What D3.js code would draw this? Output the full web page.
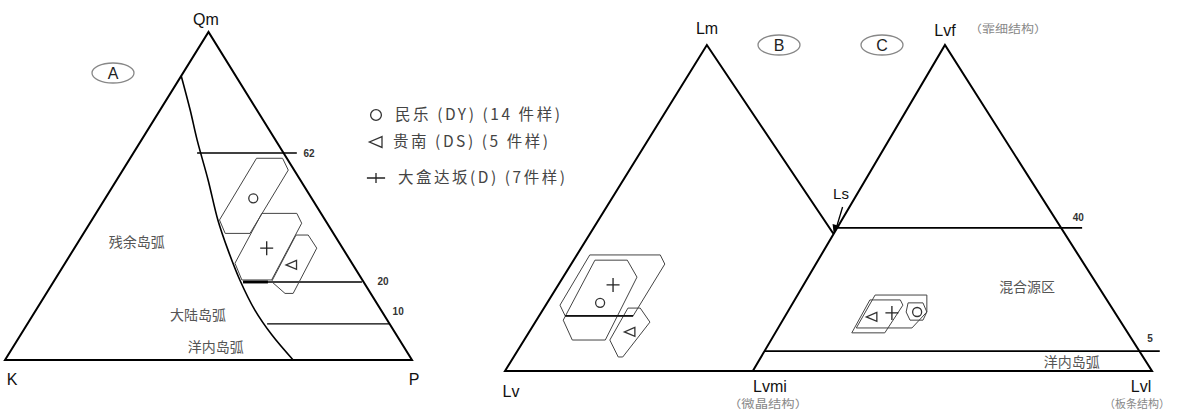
<!DOCTYPE html>
<html><head><meta charset="utf-8">
<script src="https://cdn.jsdelivr.net/npm/d3@7"></script>
<style>
html,body{margin:0;padding:0;background:#fff;}
svg{display:block;}
text{font-family:"Liberation Sans",Arial,sans-serif;}
.cjk{font-family:"Noto Sans CJK SC",sans-serif;}
</style></head><body>
<svg id="c" width="1189" height="413"></svg>
<script>
// ---------- DATA (percent coordinates inside each diagram frame) ----------
// Panel A frame: x 0..100 from K to P, y 0..100 from base to Qm apex
const aCorners = [[0,0],[50,100],[100,0]];
const aCornerLabels = ["K","Qm","P"];
const aCurve = [[43.3,86.6],[45.5,76.2],[47.2,67.1],[49.9,54.9],[52.3,42.7],[54.8,33.5],[57.7,24.4],[61.4,15.2],[65.6,7.6],[70.8,0]];
const aLevels = [[47.2,71.7,63.1],[58.5,87.7,23.8],[64.4,94.6,11.0]];   // [xStart, xEnd, y]
const aLevelLabels = ["62","20","10"];
const aLevelLabelPos = [[74.7,63.1],[92.9,23.8],[96.6,14.9]];
const aThick = [[58.5,23.8],[64.6,23.8]];
const aRegions = ["残余岛弧","大陆岛弧","洋内岛弧"];
const aRegionPos = [[32.4,36.0],[47.4,13.7],[51.8,4.0]];
const aPolyCircle = [[61.8,61.5],[68.2,61.5],[69.6,57.9],[60.2,38.6],[54.1,38.6],[52.7,42.7]];
const aPolyCross = [[63.1,44.7],[71.7,44.7],[72.9,41.7],[65.5,24.4],[58.2,24.4],[56.5,29.5]];
const aPolyTri = [[71.5,38.1],[74.5,38.1],[76.6,34.1],[70.8,20.3],[68.8,20.3],[65.5,23.9]];
const aMarkers = [["circle",61.0,49.3],["cross",64.3,34.1],["tri",70.4,29.0]];

// Panel B/C frame: x 0..100 from Lv to Lvl, y 0..100 from base to apex
const bLv = [0,0], bLm = [31.2,100], cLvmi = [38.3,0], cLvf = [68.0,100], cLvl = [100,0];
const bcCornerLabels = ["Lv","Lm","Lvmi","Lvf","Lvl"];
const bcSubLabels = ["（微晶结构）","（霏细结构）","（板条结构）"];
const bcLevels = [[89.2,43.9],[101.2,6.1]];  // [xEnd, y] ; start on C left edge
const bcLevelLabels = ["40","5"];
const bcLevelLabelPos = [[88.6,47.0],[99.7,10.1]];
const bcRegions = ["混合源区","洋内岛弧"];
const bcRegionPos = [[80.7,25.8],[87.6,2.8]];
const bPolyOuter = [[13.1,35.6],[24.0,35.6],[24.7,32.8],[19.8,16.9],[9.3,16.9],[8.5,20.2]];
const bPolyInner = [[13.9,34.0],[18.9,34.0],[20.4,28.8],[15.5,9.5],[10.4,9.5],[9.0,15.6]];
const bPolyTri = [[19.0,19.3],[20.9,19.3],[22.4,15.0],[18.2,4.3],[17.5,4.3],[16.2,9.5]];
const bBaseSeg = [[9.3,16.9],[19.8,16.9]];
const bMarkers = [["cross",16.7,26.4],["circle",14.7,20.9],["tri",19.3,12.0]];
const cPoly1 = [[57.2,23.3],[65.2,23.3],[65.2,18.1],[62.9,13.2],[54.3,13.2]];
const cPoly2 = [[56.4,21.8],[61.1,21.8],[61.5,20.2],[58.7,11.7],[53.6,11.7]];
const cPolyHex = [[62.3,20.9],[64.6,20.9],[65.2,18.1],[64.6,15.6],[62.6,15.6],[62.0,18.1]];
const cMarkers = [["tri",56.7,16.6],["cross",59.8,17.8],["circle",63.7,18.1]];

const legendLabels = ["民乐 (DY) (14 件样)","贵南 (DS) (5 件样)","大盒达坂(D) (7件样)"];
const legendSymbols = ["circle","tri","cross"];
const panelNames = ["A","B","C"];

// ---------- DRAW ----------
const svg = d3.select("#c");
const ax = d3.scaleLinear().domain([0,100]).range([5,412]);
const ay = d3.scaleLinear().domain([0,100]).range([360,32]);
const bx = d3.scaleLinear().domain([0,100]).range([505,1152]);
const by = d3.scaleLinear().domain([0,100]).range([371,45]);
const line = (sx,sy)=>d3.line().x(d=>sx(d[0])).y(d=>sy(d[1]));

function marker(g, type, x, y, s){
  s = s || 1;
  if(type==="circle") g.append("circle").attr("cx",x).attr("cy",y).attr("r",4.5*s).attr("fill","none").attr("stroke","#333").attr("stroke-width",1.3);
  else if(type==="cross") g.append("path").attr("d",`M${x-6.5*s},${y}H${x+6.5*s}M${x},${y-7/s}V${y+7/s}`).attr("stroke","#222").attr("stroke-width",1.3);
  else g.append("path").attr("d",`M${x+5*s},${y-4.5*s}L${x-5.5*s},${y}L${x+5*s},${y+4.5*s}Z`).attr("fill","none").attr("stroke","#333").attr("stroke-width",1.3);
}

// Panel A
const gA = svg.append("g");
gA.append("path").attr("d", line(ax,ay)(aCorners)+"Z").attr("fill","none").attr("stroke","#000").attr("stroke-width",2);
gA.append("path").attr("d", line(ax,ay).curve(d3.curveCatmullRom)(aCurve)).attr("fill","none").attr("stroke","#000").attr("stroke-width",1.6);
aLevels.forEach(l=>gA.append("line").attr("x1",ax(l[0])).attr("x2",ax(l[1])).attr("y1",ay(l[2])).attr("y2",ay(l[2])).attr("stroke","#000").attr("stroke-width",1.4));
gA.append("path").attr("d", line(ax,ay)(aThick)).attr("stroke","#000").attr("stroke-width",3);
aLevelLabels.forEach((t,i)=>gA.append("text").attr("x",ax(aLevelLabelPos[i][0])).attr("y",ay(aLevelLabelPos[i][1])).attr("dy","0.35em").attr("text-anchor","middle").attr("font-size",10).attr("font-weight","bold").attr("fill","#333").text(t));
[aPolyCircle,aPolyCross,aPolyTri].forEach(p=>gA.append("path").attr("d",line(ax,ay)(p)+"Z").attr("fill","none").attr("stroke","#444").attr("stroke-width",1));
aMarkers.forEach(m=>marker(gA,m[0],ax(m[1]),ay(m[2])));
aRegions.forEach((t,i)=>gA.append("text").attr("class","cjk").attr("x",ax(aRegionPos[i][0])).attr("y",ay(aRegionPos[i][1])).attr("dy","0.35em").attr("text-anchor","middle").attr("font-size",14).attr("fill","#555").text(t));
const aLab = [[12,385],[206,25],[414,385]];
aCornerLabels.forEach((t,i)=>gA.append("text").attr("x",aLab[i][0]).attr("y",aLab[i][1]).attr("text-anchor","middle").attr("font-size",16).attr("fill","#111").text(t));

// Panel B/C
const gB = svg.append("g");
function inter(p1,p2,p3,p4){ // intersection of lines p1p2, p3p4 in data coords
  const [x1,y1]=p1,[x2,y2]=p2,[x3,y3]=p3,[x4,y4]=p4;
  const d=(x1-x2)*(y3-y4)-(y1-y2)*(x3-x4);
  const t=((x1-x3)*(y3-y4)-(y1-y3)*(x3-x4))/d;
  return [x1+t*(x2-x1), y1+t*(y2-y1)];
}
const bLsTarget = [50.7,42.3];
const lsPt = inter(bLm,[bLm[0]+(bLsTarget[0]-bLm[0])*2,bLm[1]+(bLsTarget[1]-bLm[1])*2],cLvmi,cLvf);
const B = line(bx,by);
gB.append("path").attr("d",B([lsPt,bLm,bLv,cLvl,cLvf,cLvmi])).attr("fill","none").attr("stroke","#000").attr("stroke-width",2).attr("stroke-linejoin","miter");
bcLevels.forEach(l=>{
  const s = inter([0,l[1]],[100,l[1]],cLvmi,cLvf);
  gB.append("line").attr("x1",bx(s[0])).attr("x2",bx(l[0])).attr("y1",by(l[1])).attr("y2",by(l[1])).attr("stroke","#000").attr("stroke-width",1.6);
});
bcLevelLabels.forEach((t,i)=>gB.append("text").attr("x",bx(bcLevelLabelPos[i][0])).attr("y",by(bcLevelLabelPos[i][1])).attr("dy","0.35em").attr("text-anchor","middle").attr("font-size",10).attr("font-weight","bold").attr("fill","#333").text(t));
bcRegions.forEach((t,i)=>gB.append("text").attr("class","cjk").attr("x",bx(bcRegionPos[i][0])).attr("y",by(bcRegionPos[i][1])).attr("dy","0.35em").attr("text-anchor","middle").attr("font-size",14).attr("fill","#555").text(t));
[bPolyOuter,bPolyInner,bPolyTri,cPoly1,cPoly2,cPolyHex].forEach(p=>gB.append("path").attr("d",B(p)+"Z").attr("fill","none").attr("stroke","#444").attr("stroke-width",1));
gB.append("path").attr("d",B(bBaseSeg)).attr("stroke","#111").attr("stroke-width",1.6);
bMarkers.concat(cMarkers).forEach(m=>marker(gB,m[0],bx(m[1]),by(m[2])));
// Ls label + arrow
gB.append("text").attr("x",841).attr("y",199).attr("text-anchor","middle").attr("font-size",15).attr("fill","#111").text("Ls");
const lx = bx(lsPt[0]), ly = by(lsPt[1]);
gB.append("path").attr("d",`M${lx+9},${ly-27}L${lx+3},${ly-7}`).attr("stroke","#000").attr("stroke-width",1.3);
gB.append("path").attr("d",`M${lx-1},${ly-10}L${lx},${ly-1}L${lx+6},${ly-8}Z`).attr("fill","#000");
const bcLab = [[511,397],[707,34],[770,392],[945,36],[1141,392]];
bcCornerLabels.forEach((t,i)=>gB.append("text").attr("x",bcLab[i][0]).attr("y",bcLab[i][1]).attr("text-anchor","middle").attr("font-size",16).attr("fill","#111").text(t));
const subLab = [[768,408,"middle",80],[969,33,"start",78],[1137,408,"middle",66]];
bcSubLabels.forEach((t,i)=>gB.append("text").attr("class","cjk").attr("x",subLab[i][0]).attr("y",subLab[i][1]).attr("text-anchor",subLab[i][2]).attr("font-size",11).attr("fill","#888").attr("textLength",subLab[i][3]).attr("lengthAdjust","spacingAndGlyphs").text(t));

// Panel name ellipses
const ell = [[113,73],[779,45],[882,45]];
panelNames.forEach((t,i)=>{
  svg.append("ellipse").attr("cx",ell[i][0]).attr("cy",ell[i][1]).attr("rx",21).attr("ry",10).attr("fill","none").attr("stroke","#888").attr("stroke-width",1.3);
  svg.append("text").attr("x",ell[i][0]).attr("y",ell[i][1]).attr("dy","0.36em").attr("text-anchor","middle").attr("font-size",16).attr("fill","#222").text(t);
});

// Legend
const legY = [115,142,178], legX = [395,393,398], legW = [165,155,167];
legendLabels.forEach((t,i)=>{
  marker(svg, legendSymbols[i], 376, legY[i], legendSymbols[i]==="cross"?1.4:1.2);
  svg.append("text").attr("class","cjk").attr("x",legX[i]).attr("y",legY[i]).attr("dy","0.35em").attr("font-size",15.5).attr("fill","#444").attr("textLength",legW[i]).attr("lengthAdjust","spacing").text(t);
});
</script>
</body></html>
